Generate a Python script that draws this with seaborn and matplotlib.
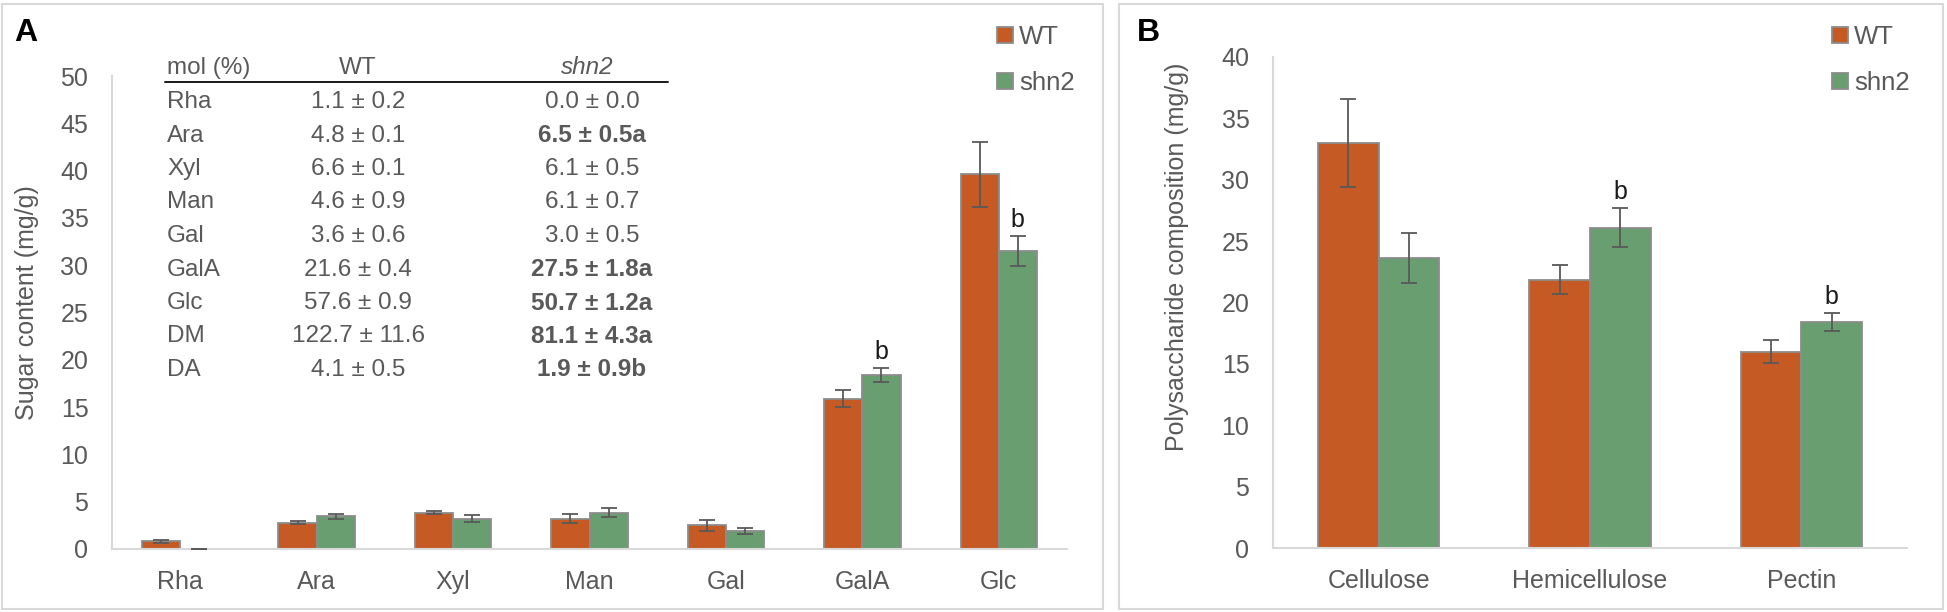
import numpy as np
import pandas as pd
import matplotlib
matplotlib.use("Agg")
import matplotlib.pyplot as plt
from matplotlib.patches import Rectangle
from matplotlib.lines import Line2D
import seaborn as sns

# ---------------- data ----------------
sugars = ["Rha", "Ara", "Xyl", "Man", "Gal", "GalA", "Glc"]
wt_sugar = [0.8, 2.8, 3.85, 3.2, 2.5, 15.9, 39.6]
wt_sugar_err = [0.15, 0.15, 0.2, 0.5, 0.55, 0.9, 3.4]
shn2_sugar = [0.0, 3.45, 3.2, 3.85, 1.9, 18.4, 31.5]
shn2_sugar_err = [0.0, 0.25, 0.35, 0.5, 0.28, 0.72, 1.6]
sugar_letters = ["", "", "", "", "", "b", "b"]

polys = ["Cellulose", "Hemicellulose", "Pectin"]
wt_poly = [33.0, 21.85, 16.0]
wt_poly_err = [3.55, 1.18, 0.91]
shn2_poly = [23.6, 26.1, 18.4]
shn2_poly_err = [2.04, 1.56, 0.75]
poly_letters = ["", "b", "b"]

genotypes = ["WT", "shn2"]

table_header = ["mol (%)", "WT", "shn2"]
table_names = ["Rha", "Ara", "Xyl", "Man", "Gal", "GalA", "Glc", "DM", "DA"]
table_wt = ["1.1 ± 0.2", "4.8 ± 0.1", "6.6 ± 0.1", "4.6 ± 0.9", "3.6 ± 0.6",
            "21.6 ± 0.4", "57.6 ± 0.9", "122.7 ± 11.6", "4.1 ± 0.5"]
table_shn2 = ["0.0 ± 0.0", "6.5 ± 0.5a", "6.1 ± 0.5", "6.1 ± 0.7", "3.0 ± 0.5",
              "27.5 ± 1.8a", "50.7 ± 1.2a", "81.1 ± 4.3a", "1.9 ± 0.9b"]
table_bold = [False, True, False, False, False, True, True, True, True]

# ---------------- style ----------------
sns.set_style("white")
plt.rcParams['font.family'] = ['Liberation Sans', 'DejaVu Sans']

W, H = 1947, 612
DPI = 100
GRAY = "#595959"
AXC = "#D9D9D9"
colors = {"WT": "#C55A24", "shn2": "#699E70"}
FS = 18
TFS = 17.5

def fx(px):
    return px / W

def fy(py):
    return 1 - py / H

fig = plt.figure(figsize=(W / DPI, H / DPI), dpi=DPI)
fig.patch.set_facecolor("white")

# panel borders
for (x0, x1) in [(2, 1103), (1119, 1943)]:
    fig.patches.append(Rectangle((fx(x0), fy(609)), fx(x1) - fx(x0), fy(4) - fy(609),
                                 transform=fig.transFigure, fill=False,
                                 edgecolor=AXC, linewidth=1.5, zorder=0))


def make_panel(rect, cats, wt, wte, sh, she, letters, ymax, ystep, ylabel,
               ylabel_xy, leg_xy, width):
    l, t, r, b = rect
    ax = fig.add_axes([fx(l), fy(b), fx(r) - fx(l), fy(t) - fy(b)])
    df = pd.DataFrame({
        "cat": cats * 2,
        "geno": ["WT"] * len(cats) + ["shn2"] * len(cats),
        "val": list(wt) + list(sh),
    })
    sns.barplot(data=df, x="cat", y="val", hue="geno", hue_order=genotypes,
                palette=colors, errorbar=None, width=width, ax=ax,
                edgecolor="#8C8C8C", linewidth=1.3, saturation=1, legend=True)
    errs = [wte, she]
    bar_conts = list(ax.containers)[:2]
    for ci, cont in enumerate(bar_conts):
        xs = [p.get_x() + p.get_width() / 2 for p in cont.patches]
        ys = [p.get_height() for p in cont.patches]
        ax.errorbar(xs, ys, yerr=errs[ci], fmt="none", ecolor=GRAY,
                    elinewidth=1.3, capsize=6, capthick=1.3, zorder=5)
        if ci == 1:
            for x, y, e, lt in zip(xs, ys, errs[ci], letters):
                if lt:
                    ax.annotate(lt, (x, y + e), xytext=(0, 3),
                                textcoords="offset points", ha="center",
                                va="bottom", fontsize=FS, color="#1a1a1a")
    ax.set_ylim(0, ymax)
    ax.set_xlim(-0.5, len(cats) - 0.5)
    ax.set_yticks(np.arange(0, ymax + 0.1, ystep))
    ax.set_xlabel("")
    ax.set_ylabel("")
    for s in ["top", "right"]:
        ax.spines[s].set_visible(False)
    for s in ["left", "bottom"]:
        ax.spines[s].set_color(AXC)
        ax.spines[s].set_linewidth(1.5)
    ax.tick_params(axis="y", length=0, pad=17, labelsize=FS, labelcolor=GRAY)
    ax.tick_params(axis="x", length=0, pad=15, labelsize=FS, labelcolor=GRAY)
    ax.set_facecolor("none")
    fig.text(fx(ylabel_xy[0]), fy(ylabel_xy[1]), ylabel, rotation=90,
             ha="center", va="center", fontsize=FS, color=GRAY)
    handles, labels = ax.get_legend_handles_labels()
    ax.legend(handles, labels, loc="upper left",
              bbox_to_anchor=(fx(leg_xy[0]), fy(leg_xy[1])),
              bbox_transform=fig.transFigure, frameon=False, fontsize=FS + 0.5,
              labelcolor=GRAY, handlelength=0.62, handleheight=0.6,
              handletextpad=0.25, labelspacing=0.85, borderpad=0,
              borderaxespad=0)
    return ax


axA = make_panel((112, 76, 1067, 549), sugars, wt_sugar, wt_sugar_err,
                 shn2_sugar, shn2_sugar_err, sugar_letters, 50, 5,
                 "Sugar content (mg/g)", (27, 303), (997, 25), 0.56)
axB = make_panel((1273, 57, 1907, 548), polys, wt_poly, wt_poly_err,
                 shn2_poly, shn2_poly_err, poly_letters, 40, 5,
                 "Polysaccharide composition (mg/g)", (1177, 257), (1832, 25), 0.575)

# panel letters
fig.text(fx(14), fy(33), "A", fontsize=23, fontweight="bold", color="black",
         ha="left", va="center")
fig.text(fx(1137), fy(33), "B", fontsize=23, fontweight="bold", color="black",
         ha="left", va="center")

# inset table in panel A
name_x, wt_x, sh_x = 167, 358, 592
fig.text(fx(name_x), fy(68), table_header[0], fontsize=TFS, color=GRAY,
         ha="left", va="center")
fig.text(fx(wt_x), fy(68), table_header[1], fontsize=TFS, color=GRAY,
         ha="center", va="center")
fig.text(fx(587), fy(68), table_header[2], fontsize=TFS, color=GRAY,
         ha="center", va="center", style="italic")
fig.add_artist(Line2D([fx(165), fx(668)], [fy(82), fy(82)],
                      transform=fig.transFigure, color="#1a1a1a", linewidth=1.4))
for i, (n, w, s, bold) in enumerate(zip(table_names, table_wt, table_shn2, table_bold)):
    yy = 102 + 33.5 * i
    fig.text(fx(name_x), fy(yy), n, fontsize=TFS, color=GRAY,
             ha="left", va="center")
    fig.text(fx(wt_x), fy(yy), w, fontsize=TFS, color=GRAY,
             ha="center", va="center")
    fig.text(fx(sh_x), fy(yy), s, fontsize=TFS, color=GRAY,
             ha="center", va="center", fontweight="bold" if bold else "normal")

fig.savefig("out.png", dpi=DPI, facecolor="white")
